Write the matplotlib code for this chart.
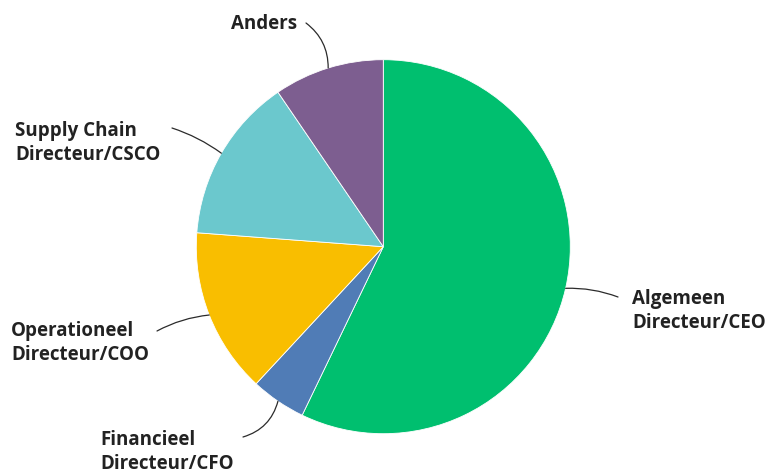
import numpy as np
import matplotlib.pyplot as plt

# respondents per role (counts)
labels = ["Algemeen\nDirecteur/CEO", "Financieel\nDirecteur/CFO",
          "Operationeel\nDirecteur/COO", "Supply Chain\nDirecteur/CSCO", "Anders"]
counts = [12, 1, 3, 3, 2]
colors = ["#00BF6F", "#507CB6", "#F9BE00", "#6BC8CD", "#7D5E90"]

W, H = 769, 475
cx, cy, r = 383.3, 246.7, 187

# label placement (pixel coords from the top-left): text anchor, alignment, line start, curvature
label_pos = [
    ((632, 311), "left", (618, 297), 0.1),
    ((100, 452), "left", (243, 437), 0.28),
    ((11, 343), "left", (157, 331), -0.1),
    ((15, 143), "left", (172, 128), -0.08),
    ((297, 24), "right", (306, 23), -0.25),
]


def px(x, y):
    return x, H - y


fig = plt.figure(figsize=(W / 100, H / 100), dpi=100)
ax = fig.add_axes([0, 0, 1, 1])
ax.set_xlim(0, W)
ax.set_ylim(0, H)

wedges, _ = ax.pie(counts, colors=colors, startangle=90, counterclock=False,
                   center=px(cx, cy), radius=r, frame=True,
                   wedgeprops=dict(edgecolor="white", linewidth=0.6))
ax.set_xlim(0, W)
ax.set_ylim(0, H)
ax.set_aspect("equal")
ax.axis("off")

for w, lab, (tpos, ha, start, rad) in zip(wedges, labels, label_pos):
    mid = np.deg2rad((w.theta1 + w.theta2) / 2)
    rim = (w.center[0] + r * np.cos(mid), w.center[1] + r * np.sin(mid))
    ax.annotate("", xy=rim, xytext=px(*start),
                arrowprops=dict(arrowstyle="-", color="#2b2b2b", lw=0.9,
                                shrinkA=0, shrinkB=0,
                                connectionstyle=f"arc3,rad={rad}"))
    ax.text(*px(*tpos), lab, ha=ha, va="center", fontsize=13.5,
            fontweight="bold", family="Open Sans", color="#222222",
            linespacing=1.3)

fig.savefig("out.png", dpi=100)
